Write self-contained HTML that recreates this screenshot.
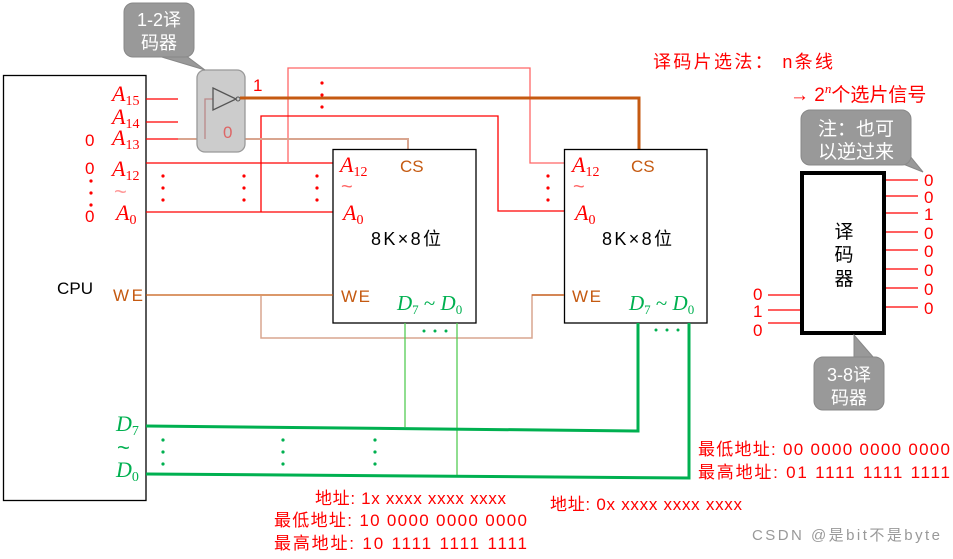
<!DOCTYPE html>
<html><head><meta charset="utf-8"><style>
body{margin:0;background:#fff}
svg text{font-family:"Liberation Sans","Noto Sans CJK SC",sans-serif}
.i{font-family:"Liberation Serif",serif;font-style:italic}
</style></head><body>
<svg width="953" height="554" viewBox="0 0 953 554" xmlns="http://www.w3.org/2000/svg">
<defs>
<g id="vd"><circle cx="0" cy="0" r="1.6"/><circle cx="0" cy="12" r="1.6"/><circle cx="0" cy="24" r="1.6"/></g>
</defs>
<!-- CPU -->
<rect x="3.5" y="75.5" width="142.5" height="425" fill="#fff" stroke="#000" stroke-width="1.3"/>
<text x="57" y="294" font-size="17" fill="#000" textLength="36">CPU</text>
<g fill="#f00" font-size="22">
<text x="112" y="101" class="i">A<tspan font-size="14" font-style="normal" dy="4">15</tspan></text>
<text x="112" y="124" class="i">A<tspan font-size="14" font-style="normal" dy="4">14</tspan></text>
<text x="112" y="145" class="i">A<tspan font-size="14" font-style="normal" dy="4">13</tspan></text>
<text x="112" y="176" class="i">A<tspan font-size="14" font-style="normal" dy="4">12</tspan></text>
<text x="114" y="199" font-size="22" fill="#f99">~</text>
<text x="116" y="220" class="i">A<tspan font-size="14" font-style="normal" dy="4">0</tspan></text>
</g>
<g fill="#f00" font-size="17"><text x="85" y="146">0</text><text x="85" y="174">0</text><text x="85" y="222">0</text></g>
<g fill="#f00"><use href="#vd" x="91" y="181"/></g>
<text x="113" y="301" font-size="17" fill="#c55a11" textLength="30">WE</text>
<g fill="#00b050" font-size="22">
<text x="116" y="431" class="i">D<tspan font-size="14" font-style="normal" dy="4">7</tspan></text>
<text x="117" y="455" font-size="22">~</text>
<text x="116" y="477" class="i">D<tspan font-size="14" font-style="normal" dy="4">0</tspan></text>
</g>
<!-- address lines -->
<g stroke="#f00" stroke-width="1.3" fill="none">
<path d="M146 99H178M146 122H178M146 139H178"/>
<path d="M146 163H333M146 212H333"/>
<path d="M288 163V68H530V163H564" stroke="#f66"/>
<path d="M261 212V116H498V211H564"/>
</g>
<path d="M178 139H408V149" stroke="#d9a58f" stroke-width="2" fill="none"/>
<!-- gate -->
<rect x="197" y="70" width="48" height="82" rx="8" fill="#ccc" stroke="#999" stroke-width="1.3"/>
<path d="M205 139V99H213" stroke="#b88" fill="none" stroke-width="1.3"/>
<path d="M213 88L236 99L213 110Z" fill="none" stroke="#555" stroke-width="1.3"/>
<circle cx="238" cy="99" r="2" fill="none" stroke="#555"/>
<text x="223" y="138" font-size="17" fill="#d66">0</text>
<text x="253" y="91" font-size="17" fill="#f00">1</text>
<path d="M240 98H639V149" stroke="#c55a11" stroke-width="3" fill="none"/>
<!-- callout 1-2 -->
<path d="M155 55L205 70L185 55Z" fill="#999" stroke="#888"/>
<rect x="124" y="3" width="70" height="54" rx="9" fill="#999" stroke="#888"/>
<text x="159" y="26" font-size="18" fill="#fff" text-anchor="middle">1-2译</text>
<text x="159" y="49" font-size="18" fill="#fff" text-anchor="middle">码器</text>
<!-- dots -->
<g fill="#f00"><use href="#vd" x="163" y="176"/><use href="#vd" x="244" y="176"/><use href="#vd" x="317" y="176"/><use href="#vd" x="322" y="83"/><use href="#vd" x="548" y="176"/></g>
<!-- chips -->
<rect x="333" y="149.5" width="143" height="173.5" fill="none" stroke="#000" stroke-width="1.3"/>
<rect x="564.5" y="149.5" width="142.5" height="173.5" fill="none" stroke="#000" stroke-width="1.3"/>
<g font-size="22" fill="#f00">
<text x="340" y="172" class="i">A<tspan font-size="14" font-style="normal" dy="4">12</tspan></text>
<text x="341" y="193" font-size="20" fill="#f66">~</text>
<text x="343" y="220" class="i">A<tspan font-size="14" font-style="normal" dy="4">0</tspan></text>
<text x="572" y="172" class="i">A<tspan font-size="14" font-style="normal" dy="4">12</tspan></text>
<text x="573" y="193" font-size="20" fill="#f66">~</text>
<text x="575" y="220" class="i">A<tspan font-size="14" font-style="normal" dy="4">0</tspan></text>
</g>
<g font-size="17" fill="#c55a11"><text x="400" y="172">CS</text><text x="631" y="172">CS</text><text x="341" y="302" textLength="29">WE</text><text x="572" y="302" textLength="29">WE</text></g>
<g font-size="18" fill="#000"><text x="371" y="245" textLength="70">8K×8位</text><text x="602" y="245" textLength="70">8K×8位</text></g>
<g font-size="21" fill="#00b050">
<text x="397" y="310" class="i">D<tspan font-size="13" font-style="normal" dy="4">7</tspan><tspan dy="-4" font-style="normal"> ~ </tspan>D<tspan font-size="13" font-style="normal" dy="4">0</tspan></text>
<text x="629" y="310" class="i">D<tspan font-size="13" font-style="normal" dy="4">7</tspan><tspan dy="-4" font-style="normal"> ~ </tspan>D<tspan font-size="13" font-style="normal" dy="4">0</tspan></text>
</g>
<!-- WE lines -->
<path d="M146 295H333" stroke="#c55a11" stroke-width="1.3" fill="none"/>
<path d="M261 296V338H532V295H564" stroke="#d9a58f" stroke-width="1.5" fill="none"/>
<path d="M532 295H564" stroke="#c55a11" stroke-width="1.3"/>
<!-- data -->
<path d="M405 323V427M457 323V475" stroke="#5c5" stroke-width="1.3"/>
<path d="M146 426L638 431V323" stroke="#00b050" stroke-width="3" fill="none"/>
<path d="M146 474L689 478V323" stroke="#00b050" stroke-width="3" fill="none"/>
<g fill="#00b050">
<circle cx="424" cy="331" r="1.5"/><circle cx="435" cy="331" r="1.5"/><circle cx="446" cy="331" r="1.5"/>
<circle cx="656" cy="330" r="1.5"/><circle cx="667" cy="330" r="1.5"/><circle cx="678" cy="330" r="1.5"/>
<use href="#vd" x="163" y="440"/><use href="#vd" x="283" y="440"/><use href="#vd" x="375" y="440"/></g>
<!-- bottom texts -->
<g fill="#f00" font-size="17">
<text x="315" y="504" textLength="191">地址: 1x xxxx xxxx xxxx</text>
<text x="274" y="526" textLength="253">最低地址: 10 0000 0000 0000</text>
<text x="274" y="549" textLength="253">最高地址: 10 1111 1111 1111</text>
<text x="550" y="510" textLength="192">地址: 0x xxxx xxxx xxxx</text>
<text x="698" y="455" textLength="252">最低地址: 00 0000 0000 0000</text>
<text x="698" y="478" textLength="252">最高地址: 01 1111 1111 1111</text>
<text x="653" y="68" font-size="18" textLength="180">译码片选法： n条线</text>
<text x="790" y="101" font-size="19">→ 2<tspan font-size="13" dy="-8" class="i">n</tspan><tspan dy="8">个选片信号</tspan></text>
</g>
<!-- decoder -->
<path d="M893 160L923 172L905 150Z" fill="#999" stroke="#888"/>
<rect x="801" y="110" width="110" height="55" rx="9" fill="#999" stroke="#888"/>
<text x="856" y="135" font-size="19" fill="#fff" text-anchor="middle">注：也可</text>
<text x="856" y="158" font-size="19" fill="#fff" text-anchor="middle">以逆过来</text>
<rect x="802" y="173" width="82" height="160" fill="#fff" stroke="#000" stroke-width="4"/>
<g font-size="19" fill="#000" text-anchor="middle"><text x="844" y="238">译</text><text x="844" y="261">码</text><text x="844" y="285">器</text></g>
<g stroke="#f00" stroke-width="1.3"><path d="M886 180H918M886 196H918M886 213H918M886 232H918M886 250H918M886 269H918M886 288H918M886 307H918M768 295H800M768 310H800M768 323H800"/></g>
<g fill="#f00" font-size="17"><text x="924" y="186">0</text><text x="924" y="203">0</text><text x="924" y="220">1</text><text x="924" y="239">0</text><text x="924" y="257">0</text><text x="924" y="276">0</text><text x="924" y="295">0</text><text x="924" y="314">0</text>
<text x="753" y="300">0</text><text x="753" y="317">1</text><text x="753" y="336">0</text></g>
<path d="M854 335L874 358L854 358Z" fill="#999" stroke="#888"/>
<rect x="814" y="357" width="70" height="53" rx="9" fill="#999" stroke="#888"/>
<text x="849" y="381" font-size="18" fill="#fff" text-anchor="middle">3-8译</text>
<text x="849" y="404" font-size="18" fill="#fff" text-anchor="middle">码器</text>
<text x="752" y="540" font-size="15" fill="#999" textLength="188">CSDN @是bit不是byte</text>
</svg>
</body></html>
